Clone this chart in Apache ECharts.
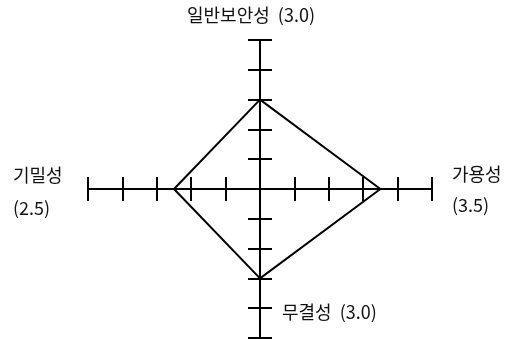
<!DOCTYPE html>
<html>
<head>
<meta charset="utf-8">
<script src="https://cdn.jsdelivr.net/npm/echarts@6/dist/echarts.min.js"></script>
<style>
html,body{margin:0;padding:0;background:#fff;}
#main{width:515px;height:339px;}
</style>
</head>
<body>
<div id="main"></div>
<script>
// Data
var categories = ['일반보안성', '가용성', '무결성', '기밀성'];
var values = [3.0, 3.5, 3.0, 2.5];
var valueLabels = ['(3.0)', '(3.5)', '(3.0)', '(2.5)'];
var axisMax = 5;
var axisInterval = 1;
// unit directions for each axis (top, right, bottom, left)
var directions = [[0, 1], [1, 0], [0, -1], [-1, 0]];

var polygon = values.map(function (v, i) {
  return [directions[i][0] * v, directions[i][1] * v];
});
polygon.push(polygon[0]);

var FONT = '"Noto Sans CJK KR", "Noto Sans", sans-serif';
var chart = echarts.init(document.getElementById('main'));

function axisCommon(pos) {
  return {
    type: 'value',
    position: pos,
    min: -axisMax,
    max: axisMax,
    interval: axisInterval,
    axisLine: { show: true, onZero: true, lineStyle: { color: '#000', width: 2 } },
    axisTick: { show: true, inside: false, length: 12, lineStyle: { color: '#000', width: 2 } },
    axisLabel: { show: false },
    splitLine: { show: false }
  };
}

var textStyle = { fill: '#111', fontSize: 18, fontFamily: FONT };

chart.setOption({
  animation: false,
  backgroundColor: '#fff',
  grid: { left: 88, top: 40, width: 344, height: 298 },
  xAxis: [axisCommon('bottom'), axisCommon('top')],
  yAxis: [axisCommon('left'), axisCommon('right')],
  series: [{
    type: 'line',
    xAxisIndex: 0,
    yAxisIndex: 0,
    data: polygon,
    symbol: 'none',
    lineStyle: { color: '#000', width: 2 }
  }],
  graphic: [
    { type: 'text', left: 187, top: 6, style: Object.assign({ text: categories[0] + '  ' + valueLabels[0] }, textStyle) },
    { type: 'text', left: 452, top: 165, style: Object.assign({ text: categories[1] }, textStyle) },
    { type: 'text', left: 452, top: 196, style: Object.assign({ text: valueLabels[1] }, textStyle) },
    { type: 'text', left: 282, top: 303, style: Object.assign({ text: categories[2] + '  ' + valueLabels[2] }, textStyle) },
    { type: 'text', left: 13, top: 166, style: Object.assign({ text: categories[3] }, textStyle) },
    { type: 'text', left: 13, top: 199, style: Object.assign({ text: valueLabels[3] }, textStyle) }
  ]
});
</script>
</body>
</html>
